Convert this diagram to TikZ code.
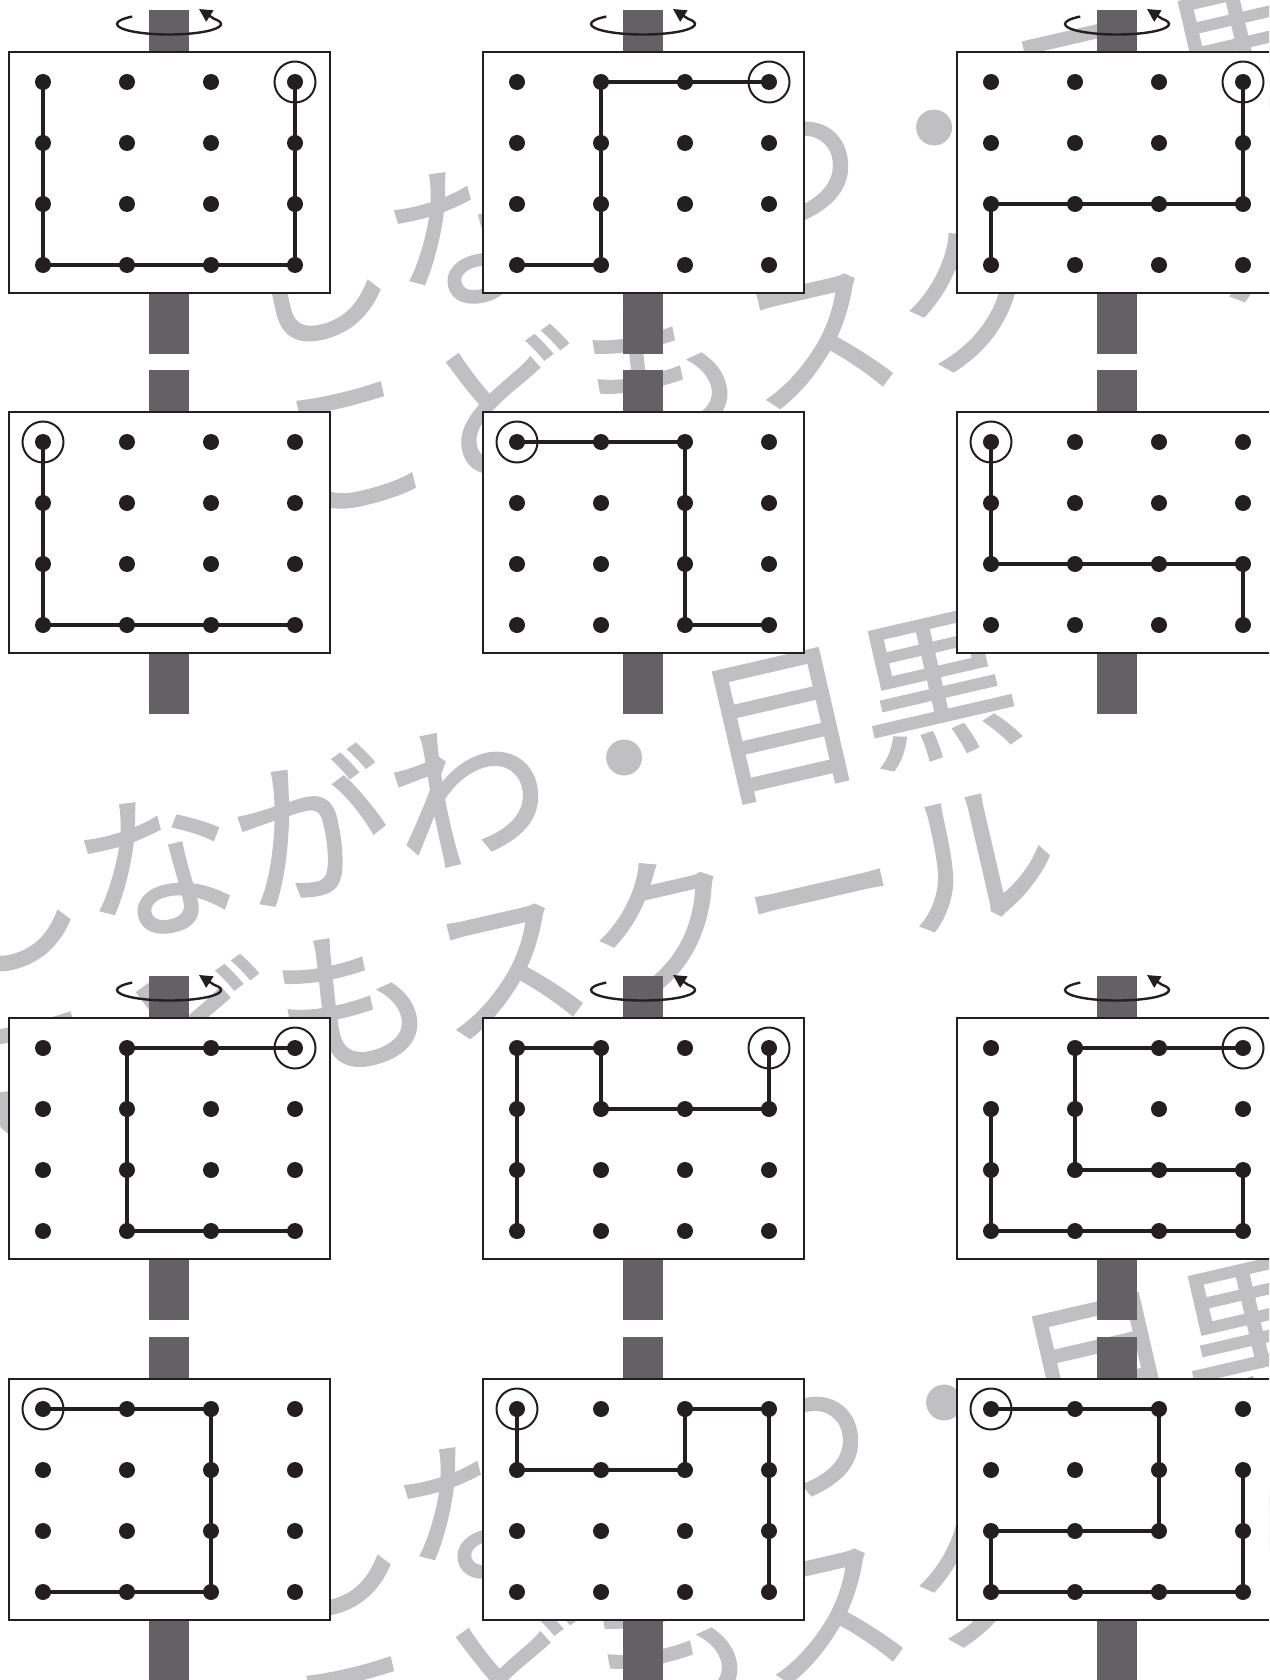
\documentclass[tikz,border=0pt]{standalone}
\usepackage{fontspec}
\newfontfamily\cjk[FakeBold=1.5]{Noto Sans CJK JP}
\usetikzlibrary{arrows.meta,calc}
\definecolor{ink}{RGB}{35,31,32}
\definecolor{polegray}{RGB}{99,97,100}
\definecolor{wmgray}{RGB}{192,192,194}
\tikzset{
  wm/.style={anchor=base, rotate=13, inner sep=0pt, outer sep=0pt, text=wmgray,
    font=\cjk\fontsize{158}{158}\selectfont},
  boardbox/.style={draw=ink, line width=2pt, fill=white, minimum width=321pt,
    minimum height=241pt, inner sep=0pt, outer sep=0pt},
  route/.style={draw=ink, line width=4.6pt, line join=round, line cap=round},
  peg/.style={fill=ink},
  startmark/.style={draw=ink, line width=2pt},
  polebar/.style={fill=polegray},
  spin/.style={draw=ink, line width=2.4pt, -{Triangle[length=13pt,width=13pt]}},
}
% watermark: #1,#2 = baseline point of first character, #3 = name
\newcommand{\wmark}[3]{%
  \foreach \ch [count=\i from 0] in {し,な,が,わ,・,目,黒}
    \node[wm] (#3a\i) at ({#1+\i*155.9},{#2-\i*36.0}) {\ch};
  \foreach \ch [count=\i from 0] in {こ,ど,も,ス,ク,ー,ル}
    \node[wm] (#3b\i) at ({#1+39.4+\i*155.9},{#2+170.5-\i*36.0}) {\ch};
}
% board: #1 name, #2 X, #3 Y (top-left of the box)
\newcommand{\board}[3]{%
  \fill[polebar] ({#2+140},{#3-42}) rectangle ({#2+180},{#3+302});
  \node[boardbox] (#1) at ({#2+160.5},{#3+120.5}) {};
  \foreach \cc in {0,1,2,3}{\foreach \rr in {0,1,2,3}{
    \coordinate (#1-\cc\rr) at ({#2+34+84*\cc},{#3+30+61*\rr});}}
}
\newcommand{\spinner}[3]{%
  \coordinate (#1-axis) at ({#2+160},{#3-28});
  \draw[spin] ($(#1-axis)+(-36.77,-7.42)$)
     arc[start angle=225, end angle=-30, x radius=52, y radius=10.5]
     -- ($(#1-axis)+(30,-15)$);
}
\begin{document}
\begin{tikzpicture}[x=1pt,y=-1pt]
\useasboundingbox (0,0) rectangle (1269,1680);
\clip (0,0) rectangle (1269,1680);
\fill[white] (0,0) rectangle (1269,1680);

\wmark{324}{330}{wA}
\wmark{14}{960}{wB}
\wmark{334}{1605}{wC}

\board{p1}{9}{52}     \board{p2}{483}{52}    \board{p3}{957}{52}
\board{p4}{9}{412}    \board{p5}{483}{412}   \board{p6}{957}{412}
\board{p7}{9}{1018}   \board{p8}{483}{1018}  \board{p9}{957}{1018}
\board{p10}{9}{1379}  \board{p11}{483}{1379} \board{p12}{957}{1379}

\spinner{p1}{9}{52} \spinner{p2}{483}{52} \spinner{p3}{957}{52}
\spinner{p7}{9}{1018} \spinner{p8}{483}{1018} \spinner{p9}{957}{1018}

\draw[route] (p1-30) -- (p1-33) -- (p1-03) -- (p1-00);
\draw[route] (p2-30) -- (p2-10) -- (p2-13) -- (p2-03);
\draw[route] (p3-30) -- (p3-32) -- (p3-02) -- (p3-03);
\draw[route] (p4-00) -- (p4-03) -- (p4-33);
\draw[route] (p5-00) -- (p5-20) -- (p5-23) -- (p5-33);
\draw[route] (p6-00) -- (p6-02) -- (p6-32) -- (p6-33);
\draw[route] (p7-30) -- (p7-10) -- (p7-13) -- (p7-33);
\draw[route] (p8-30) -- (p8-31) -- (p8-11) -- (p8-10) -- (p8-00) -- (p8-03);
\draw[route] (p9-30) -- (p9-10) -- (p9-12) -- (p9-32) -- (p9-33) -- (p9-03) -- (p9-01);
\draw[route] (p10-00) -- (p10-20) -- (p10-23) -- (p10-03);
\draw[route] (p11-00) -- (p11-01) -- (p11-21) -- (p11-20) -- (p11-30) -- (p11-33);
\draw[route] (p12-00) -- (p12-20) -- (p12-22) -- (p12-02) -- (p12-03) -- (p12-33) -- (p12-31);

\foreach \pn in {p1,p2,p3,p4,p5,p6,p7,p8,p9,p10,p11,p12}{
  \foreach \cc in {0,1,2,3}{\foreach \rr in {0,1,2,3}{
    \fill[peg] (\pn-\cc\rr) circle[radius=8pt];}}}

\foreach \pn in {p1,p2,p3,p7,p8,p9}{\draw[startmark] (\pn-30) circle[radius=20.5pt];}
\foreach \pn in {p4,p5,p6,p10,p11,p12}{\draw[startmark] (\pn-00) circle[radius=20.5pt];}
\end{tikzpicture}
\end{document}
